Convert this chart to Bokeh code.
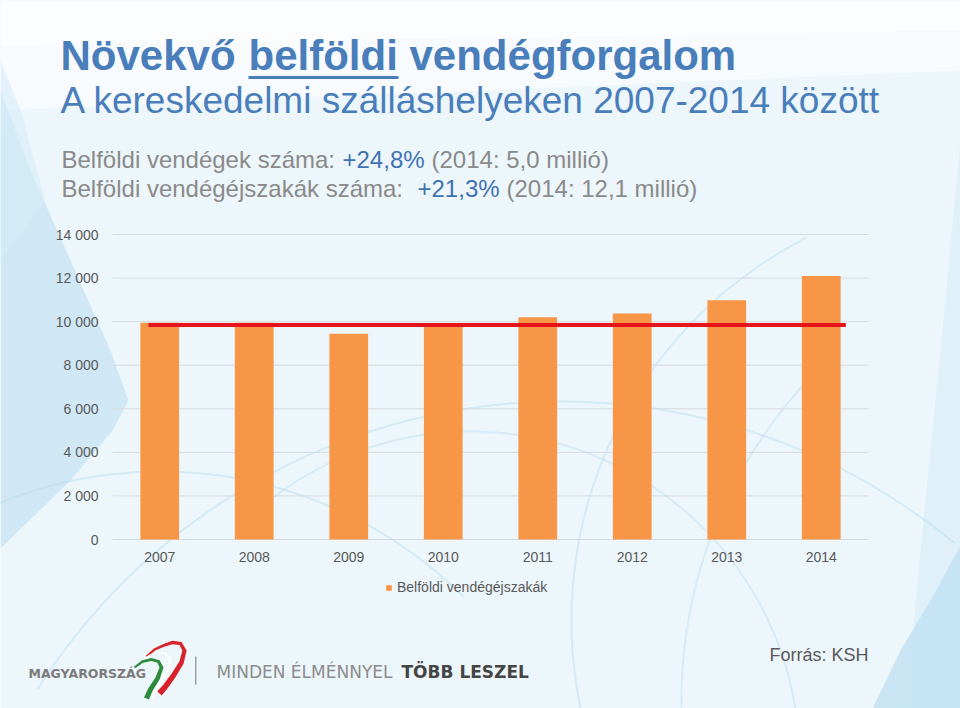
import numpy as np
from bokeh.plotting import figure
from bokeh.models import (Label, Legend, LegendItem, PolyAnnotation, Range1d,
                          FixedTicker, ColumnDataSource, BoxAnnotation)
from bokeh.embed import file_html
from bokeh.resources import INLINE

# ---------------- data ----------------
years = ["2007", "2008", "2009", "2010", "2011", "2012", "2013", "2014"]
nights = [9950, 9950, 9450, 9930, 10200, 10370, 10980, 12100]   # ezer vendégéjszaka
series_name = "Belföldi vendégéjszakák"
y_ticks = [0, 2000, 4000, 6000, 8000, 10000, 12000, 14000]
y_tick_labels = ["0", "2 000", "4 000", "6 000", "8 000", "10 000", "12 000", "14 000"]
y_max = 14000
ref_level = 9850          # red reference line (2007 level)
ref_x_span = [0.38, 7.76]  # extent of the red line along the category axis

# ---------------- layout constants (page px) ----------------
W, H = 960, 708
FL, FR, FT, FB = 112, 868, 234, 539   # chart plotting area in page coords
n = len(years)
cat_w = (FR - FL) / n
px_per_val = (FB - FT) / y_max

def lx(px):  # page x -> screen x
    return px

def ly(py):  # page y -> screen y (up from bottom)
    return H - py

BG = "#edf6fb"
BLUE = "#4a7ebb"
GRAY = "#8a8a8a"

p = figure(width=W, height=H, output_backend="svg", toolbar_location=None,
           x_range=Range1d(-FL / cat_w, n + (W - FR) / cat_w),
           y_range=Range1d(-(H - FB) / px_per_val, y_max + FT / px_per_val),
           min_border=0)
p.background_fill_color = BG
p.border_fill_color = BG
p.outline_line_color = None

# ---------------- decorative background ----------------
def poly(xs, ys, color, alpha, level="image"):
    pa = PolyAnnotation(xs=[lx(x) for x in xs], ys=[ly(y) for y in ys],
                        xs_units="screen", ys_units="screen",
                        fill_color=color, fill_alpha=alpha, line_color=None,
                        level=level)
    p.add_layout(pa)

# white haze at top
poly([0, 960, 960, 0], [0, 0, 70, 110], "#ffffff", 0.55)
poly([0, 960, 960, 0], [0, 0, 30, 45], "#ffffff", 0.5)
# left blue wedge
poly([0, 30, 70, 110, 128, 112, 70, 0], [90, 170, 260, 350, 400, 430, 480, 548], "#c3e3f3", 0.7)
poly([0, 20, 45, 0], [60, 110, 200, 260], "#d6edf8", 0.6)
# right side tint
poly([960, 960, 905, 925, 945], [140, 708, 708, 500, 300], "#d3ebf7", 0.55)
# right lower blue corner
poly([960, 960, 872, 900, 930], [545, 708, 708, 650, 600], "#bfe1f2", 0.8)

def arc(cx, cy, r, a0, a1, color="#b5dbee", alpha=0.45, w=2.0):
    t = np.linspace(a0, a1, 80)
    ox = cx + r * np.cos(t); oy = cy + r * np.sin(t)
    ix = cx + (r - w) * np.cos(t[::-1]); iy = cy + (r - w) * np.sin(t[::-1])
    poly(list(ox) + list(ix), list(oy) + list(iy), color, alpha)

arc(160, 900, 430, np.pi * 1.15, np.pi * 1.75)
arc(560, 1020, 620, np.pi * 1.18, np.pi * 1.72)
arc(470, 760, 330, np.pi * 1.25, np.pi * 1.95, alpha=0.4)
arc(1000, 620, 430, np.pi * 0.92, np.pi * 1.35, alpha=0.45)
arc(1150, 700, 470, np.pi * 0.9, np.pi * 1.25, alpha=0.4)

# ---------------- chart ----------------
xs = [i + 0.5 for i in range(n)]
grid_src = ColumnDataSource(dict(y=y_ticks, x0=[0] * len(y_ticks), x1=[n] * len(y_ticks)))
p.segment(x0="x0", x1="x1", y0="y", y1="y", source=grid_src,
          line_color="#d6dadd", line_width=1)

src = ColumnDataSource(dict(x=xs, top=nights, year=years))
bars = p.vbar(x="x", top="top", width=0.41, source=src,
              fill_color="#f79646", line_color=None)
p.segment(x0=[ref_x_span[0]], x1=[ref_x_span[1]], y0=[ref_level], y1=[ref_level],
          line_color="#e8141b", line_width=4)

p.xgrid.visible = False
p.ygrid.visible = False

p.yaxis.ticker = FixedTicker(ticks=y_ticks)
p.yaxis.major_label_overrides = {v: s for v, s in zip(y_ticks, y_tick_labels)}
p.yaxis.fixed_location = 0
p.xaxis.ticker = FixedTicker(ticks=xs)
p.xaxis.major_label_overrides = {x: y for x, y in zip(xs, years)}
p.xaxis.fixed_location = 0
for ax in (p.xaxis, p.yaxis):
    ax.axis_line_color = None
    ax.major_tick_line_color = None
    ax.minor_tick_line_color = None
    ax.major_tick_out = 0
    ax.major_tick_in = 0
    ax.minor_tick_out = 0
    ax.minor_tick_in = 0
    ax.major_label_text_font = "Liberation Sans"
    ax.major_label_text_font_size = "14px"
    ax.major_label_text_color = "#595959"
p.yaxis.major_label_standoff = 14
p.xaxis.major_label_standoff = 12

legend = Legend(items=[LegendItem(label=series_name, renderers=[bars])],
                location=(lx(385), ly(595)), orientation="horizontal",
                padding=0, margin=0, spacing=0, glyph_width=7, glyph_height=7,
                label_standoff=5, label_text_font="Liberation Sans",
                label_text_font_size="14px", label_text_color="#595959",
                background_fill_alpha=0, border_line_color=None)
p.add_layout(legend, "center")

# ---------------- texts ----------------
def txt(s, px, py, size, color, bold=False, font="Liberation Sans", align="left"):
    # py is the wanted baseline (page px); compensate for the renderer's baseline shift
    lab = Label(x=lx(px), y=ly(py - 0.37 * size), x_units="screen", y_units="screen", text=s,
                text_font=font, text_font_size=f"{size}px", text_color=color,
                text_font_style="bold" if bold else "normal",
                text_baseline="alphabetic", text_align=align)
    p.add_layout(lab)

txt("Növekvő", 60, 71, 42, BLUE, bold=True)
txt("belföldi", 248, 71, 42, BLUE, bold=True)
txt("vendégforgalom", 409, 71, 42, BLUE, bold=True)
p.add_layout(BoxAnnotation(left=lx(248), right=lx(398), bottom=ly(78.5), top=ly(75.5),
                           left_units="screen", right_units="screen",
                           bottom_units="screen", top_units="screen",
                           fill_color=BLUE, fill_alpha=1, line_color=None))
txt("A kereskedelmi szálláshelyeken 2007-2014 között", 60, 114, 37, BLUE)

txt("Belföldi vendégek száma:", 61, 168, 24, GRAY)
txt("+24,8%", 342, 168, 24, "#3f72b3")
txt("(2014: 5,0 millió)", 431, 168, 24, GRAY)
txt("Belföldi vendégéjszakák száma:", 61, 197, 24, GRAY)
txt("+21,3%", 417, 197, 24, "#3f72b3")
txt("(2014: 12,1 millió)", 506, 197, 24, GRAY)

txt("Forrás: KSH", 769, 661, 18, "#595959")

# ---------------- footer logo ----------------
txt("MAGYARORSZÁG", 28, 678, 12.5, "#7b7b7b", bold=True, font="DejaVu Sans")
txt("MINDEN ÉLMÉNNYEL", 216, 678, 17, "#8c8c8c", font="DejaVu Sans")
txt("TÖBB LESZEL", 401, 678, 17, "#454545", bold=True, font="DejaVu Sans")
p.add_layout(BoxAnnotation(left=lx(194.5), right=lx(196), bottom=ly(684), top=ly(656),
                           left_units="screen", right_units="screen",
                           bottom_units="screen", top_units="screen",
                           fill_color="#a0a0a0", fill_alpha=1, line_color=None))

def stroke(pts, w0, w1, color):
    pts = np.array(pts, dtype=float)
    d = np.gradient(pts, axis=0)
    nrm = np.stack([-d[:, 1], d[:, 0]], axis=1)
    nrm /= np.linalg.norm(nrm, axis=1, keepdims=True)
    w = np.linspace(w0, w1, len(pts))[:, None] / 2
    a = pts + nrm * w
    b = pts - nrm * w
    pp = np.vstack([a, b[::-1]])
    poly(list(pp[:, 0]), list(pp[:, 1]), color, 1.0, level="annotation")

stroke([(146, 656), (154, 649), (163, 645), (172, 642), (180, 643), (184, 650),
        (181, 662), (173, 675), (165, 686), (159, 693)], 2.0, 6.0, "#d8232a")
stroke([(141, 661), (149, 655), (157, 652), (165, 653), (170, 658), (168, 669),
        (161, 681), (154, 690), (150, 697)], 1.5, 3.5, "#ffffff")
stroke([(134, 667), (142, 661), (151, 659), (158, 661), (161, 667), (157, 678),
        (150, 689), (146, 698)], 2.0, 5.5, "#2e8b3e")

open("out.html", "w").write(file_html(p, INLINE))
